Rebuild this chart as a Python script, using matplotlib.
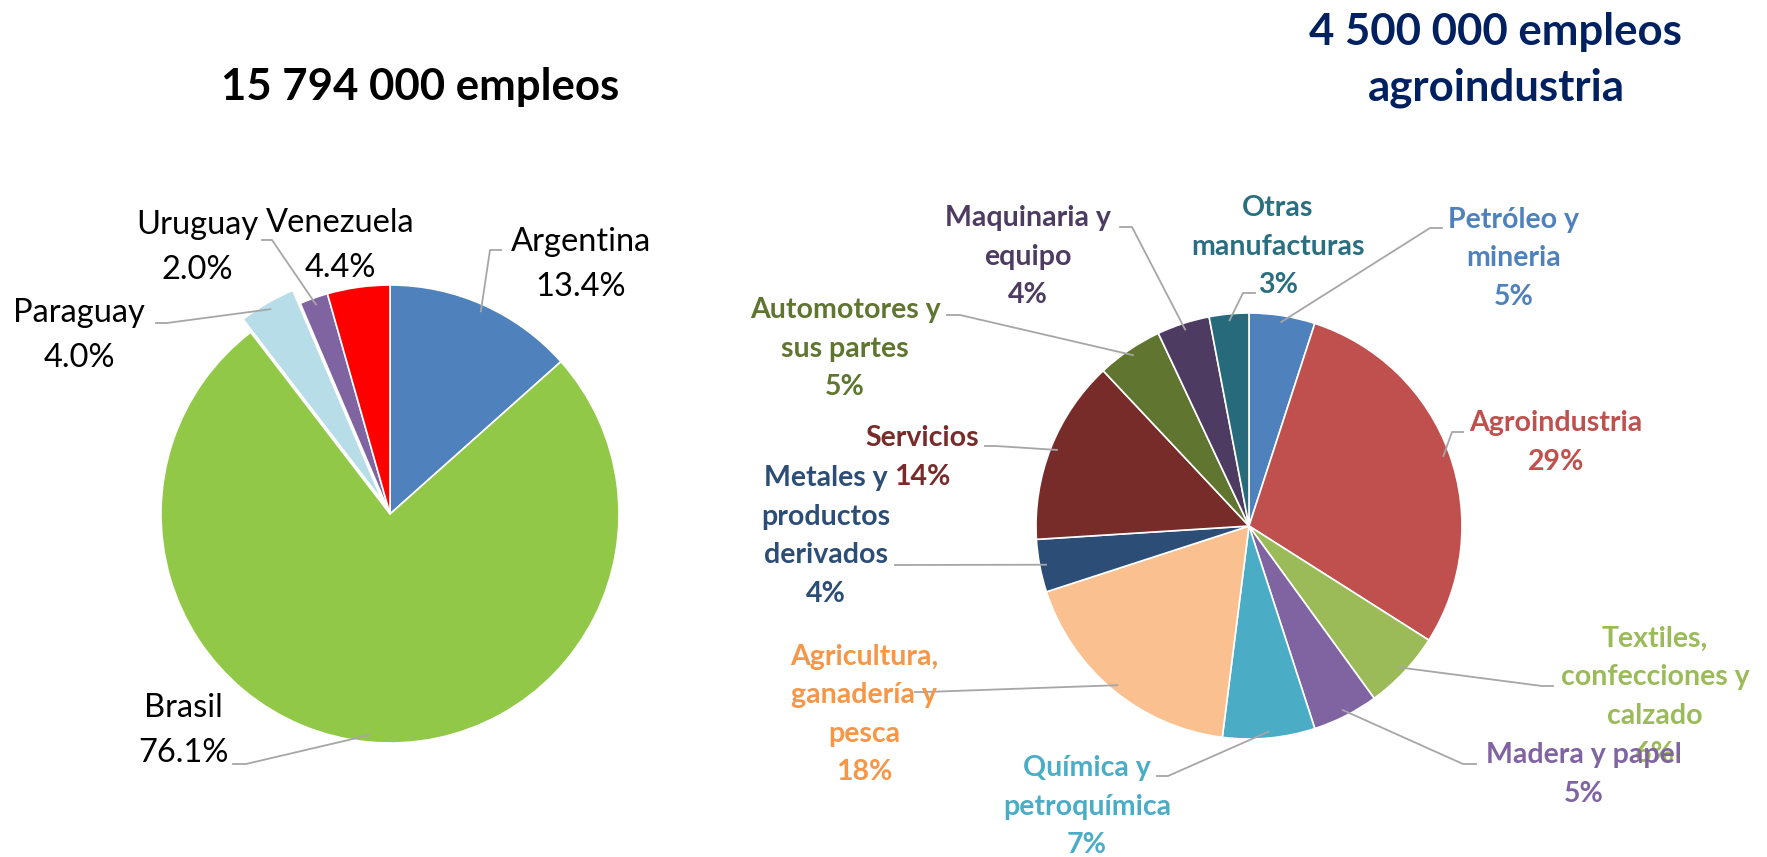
import numpy as np
import matplotlib.pyplot as plt

W, H = 1767, 857

# --- data ---
paises = ['Argentina', 'Brasil', 'Paraguay', 'Uruguay', 'Venezuela']
paises_pct = [13.4, 76.1, 4.0, 2.0, 4.4]
colores_paises = ['#4F81BD', '#92C847', '#B7DDE8', '#8064A2', '#FF0000']

sectores = ['Petróleo y\nmineria', 'Agroindustria', 'Textiles,\nconfecciones y\ncalzado',
            'Madera y papel', 'Química y\npetroquímica', 'Agricultura,\nganadería y\npesca',
            'Metales y\nproductos\nderivados', 'Servicios', 'Automotores y\nsus partes',
            'Maquinaria y\nequipo', 'Otras\nmanufacturas']
sectores_pct = [5, 29, 6, 5, 7, 18, 4, 14, 5, 4, 3]
colores_sectores = ['#4F81BD', '#C0504D', '#9BBB59', '#8064A2', '#4BACC6', '#FAC090',
                    '#2C4D75', '#772C2A', '#5F7530', '#4D3B62', '#276A7C']
texto_sectores = ['#4F81BD', '#C0504D', '#9BBB59', '#8064A2', '#4BACC6', '#F79646',
                  '#2C4D75', '#772C2A', '#5F7530', '#4D3B62', '#2A6F7F']

# --- layout (pixel coords, y down) ---
# label: (center x, first line y); leader: (label side x, elbow x, y) or None
pos_paises = [(581, 242), (183, 708), (79, 313), (197, 225), (340, 223)]
lead_paises = [(501, 490, 250), (233, 246, 764), (156, 167, 323), (262, 272, 240), None]
pos_sectores = [(1514, 220), (1556, 423), (1655, 639), (1584, 755), (1087, 768),
                (864, 657), (826, 478), (922, 438), (845, 310), (1028, 218), (1278, 208)]
lead_sectores = [(1442, 1430, 228), (1463, 1452, 432), (1553, 1542, 686), (1476, 1463, 764),
                 (1157, 1168, 776), (915, 925, 692), (895, 906, 565), (985, 996, 446),
                 (947, 960, 315), (1120, 1132, 227), (1255, 1243, 293)]

plt.rcParams['font.family'] = ['Lato', 'DejaVu Sans']
fig = plt.figure(figsize=(W / 100, H / 100), dpi=100)
ax = fig.add_axes([0, 0, 1, 1])

LINE = '#A6A6A6'


def leaders(wedges, leads):
    for w, ld in zip(wedges, leads):
        if ld is None:
            continue
        m = np.deg2rad((w.theta1 + w.theta2) / 2)
        wx = w.center[0] + w.r * 0.97 * np.cos(m)
        wy = w.center[1] + w.r * 0.97 * np.sin(m)
        ax.plot([ld[0], ld[1], wx], [ld[2], ld[2], wy], color=LINE, lw=1.3, zorder=1)


# left pie
wl, _ = ax.pie(paises_pct, colors=colores_paises, center=(390, 514), radius=229,
               startangle=-90, counterclock=True, explode=[0, 0, 15, 0, 0],
               wedgeprops=dict(edgecolor='white', linewidth=1.2), frame=True)
leaders(wl, lead_paises)
for name, v, (x, y) in zip(paises, paises_pct, pos_paises):
    for i, t in enumerate([name, f'{v:.1f}%']):
        ax.text(x, y + i * 45, t, ha='center', va='center', fontsize=23.5, color='black')

# right pie
wr, _ = ax.pie(sectores_pct, colors=colores_sectores, center=(1249, 526), radius=213,
               startangle=-90, counterclock=True,
               wedgeprops=dict(edgecolor='white', linewidth=1.2), frame=True)
leaders(wr, lead_sectores)
for name, v, c, (x, y) in zip(sectores, sectores_pct, texto_sectores, pos_sectores):
    for i, t in enumerate(name.split('\n') + [f'{v}%']):
        ax.text(x, y + i * 38.5, t, ha='center', va='center', fontsize=20.5,
                fontweight='bold', color=c)

# titles
ax.text(420, 87, '15 794 000 empleos', ha='center', va='center', fontsize=31.5,
        fontweight='bold', color='black')
ax.text(1495, 32, '4 500 000 empleos', ha='center', va='center', fontsize=31.5,
        fontweight='bold', color='#002060')
ax.text(1496, 88, 'agroindustria', ha='center', va='center', fontsize=31.5,
        fontweight='bold', color='#002060')

ax.set_xlim(0, W)
ax.set_ylim(H, 0)
ax.set_aspect('equal')
ax.axis('off')
fig.savefig('out.png', dpi=100, facecolor='white')
